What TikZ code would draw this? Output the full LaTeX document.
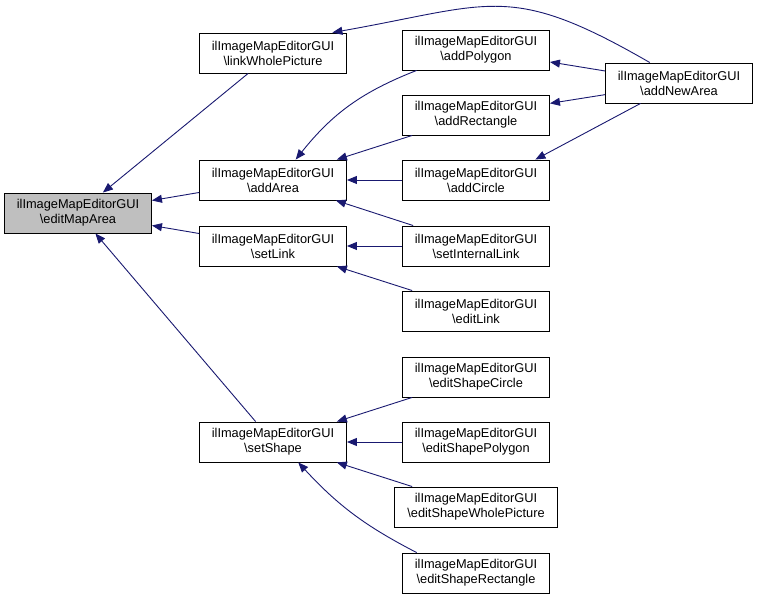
\documentclass[tikz,border=0pt]{standalone}
\usepackage{fontspec}
\setmainfont{Liberation Sans}
\usetikzlibrary{arrows.meta}
\definecolor{edgeblue}{RGB}{25,25,112}
\definecolor{focusgray}{RGB}{191,191,191}
\tikzset{
  fnbox/.style={shape=rectangle,draw=black,line width=0.9pt,minimum width=147pt,minimum height=40pt,inner sep=0pt,align=center,font=\fontsize{12.8}{15}\selectfont},
  callarrow/.style={-{Triangle[length=10pt,width=8pt]},color=edgeblue,line width=0.9pt},
}
\begin{document}
\begin{tikzpicture}[x=1pt,y=1pt]
    \useasboundingbox (0,0) rectangle (757,599);
    \node[fnbox,fill=focusgray] (EMA) at (78,386) {ilImageMapEditorGUI\\\textbackslash editMapArea};
    \node[fnbox] (LWP) at (273,546) {ilImageMapEditorGUI\\\textbackslash linkWholePicture};
    \node[fnbox] (AA) at (273,419) {ilImageMapEditorGUI\\\textbackslash addArea};
    \node[fnbox] (SL) at (273,353) {ilImageMapEditorGUI\\\textbackslash setLink};
    \node[fnbox] (SS) at (273,157) {ilImageMapEditorGUI\\\textbackslash setShape};
    \node[fnbox] (AP) at (476,549) {ilImageMapEditorGUI\\\textbackslash addPolygon};
    \node[fnbox] (AR) at (476,484) {ilImageMapEditorGUI\\\textbackslash addRectangle};
    \node[fnbox] (AC) at (476,419) {ilImageMapEditorGUI\\\textbackslash addCircle};
    \node[fnbox] (SIL) at (476,353) {ilImageMapEditorGUI\\\textbackslash setInternalLink};
    \node[fnbox] (EL) at (476,288) {ilImageMapEditorGUI\\\textbackslash editLink};
    \node[fnbox] (ESC) at (476,222) {ilImageMapEditorGUI\\\textbackslash editShapeCircle};
    \node[fnbox] (ESP) at (476,157) {ilImageMapEditorGUI\\\textbackslash editShapePolygon};
    \node[fnbox,minimum width=163pt] (ESW) at (476,92) {ilImageMapEditorGUI\\\textbackslash editShapeWholePicture};
    \node[fnbox] (ESR) at (476,26) {ilImageMapEditorGUI\\\textbackslash editShapeRectangle};
    \node[fnbox] (ANA) at (679,516) {ilImageMapEditorGUI\\\textbackslash addNewArea};
     \path [callarrow] (LWP) edge (EMA);
     \path [callarrow] (AA) edge (EMA);
     \path [callarrow] (SL) edge (EMA);
     \path [callarrow] (SS) edge (EMA);
     \path [callarrow] (AP.199) edge[bend right=15] (AA.42);
     \path [callarrow] (AR) edge (AA);
     \path [callarrow] (AC) edge (AA);
     \path [callarrow] (SIL) edge (AA);
     \path [callarrow] (SIL) edge (SL);
     \path [callarrow] (EL) edge (SL);
     \path [callarrow] (ANA.145) edge[out=150,in=10,looseness=1.3] (LWP.19);
     \path [callarrow] (ANA) edge (AP);
     \path [callarrow] (ANA) edge (AR);
     \path [callarrow] (ANA.208) edge (AC.19);
     \path [callarrow] (ESC) edge (SS);
     \path [callarrow] (ESP) edge (SS);
     \path [callarrow] (ESW) edge (SS);
     \path [callarrow] (ESR.161) edge[bend left=10] (SS.-39);
\end{tikzpicture}
\end{document}
